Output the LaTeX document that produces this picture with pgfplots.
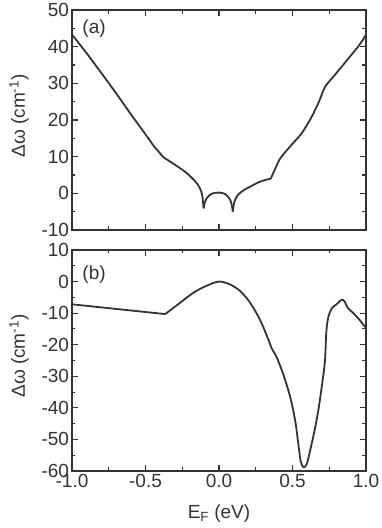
\documentclass[border=0pt]{standalone}
\usepackage{pgfplots}
\pgfplotsset{compat=1.18}
\usepackage{fontspec}
\setmainfont{Liberation Sans}
\definecolor{ink}{HTML}{333333}
\begin{document}
\begin{tikzpicture}
\pgfplotsset{
  every axis/.append style={
    scale only axis, width=294pt,
    xmin=-1, xmax=1,
    xtick={-1,-0.5,0,0.5,1},
    minor xtick={-0.75,-0.25,0.25,0.75},
    xtick align=inside, ytick align=inside,
    xtick pos=both, ytick pos=both,
    tickwidth=6pt, subtickwidth=3.5pt,
    axis line style={ink, line width=1.4pt},
    every major tick/.append style={ink, line width=1.1pt, major tick length=6pt},
    every minor tick/.append style={ink, line width=1.1pt, minor tick length=3.5pt},
    tick label style={font=\fontsize{19}{21}\selectfont, text=ink},
    yticklabel style={xshift=0.5pt},
    label style={font=\fontsize{19}{21}\selectfont, text=ink},
    /pgf/number format/assume math mode=true,
  },
}
\begin{axis}[name=top, at={(0,0)}, anchor=north west,
  height=220pt,
  ymin=-10, ymax=50,
  ytick={-10,0,10,20,30,40,50},
  yticklabels={-10,0,10,20,30,40,50},
  minor ytick={-5,5,15,25,35,45},
  xticklabels={},
  ylabel={Δω (cm\textsuperscript{-1})},
  ylabel style={at={(axis description cs:-0.18,0.518)}, anchor=center},
]
\addplot[ink, line width=1.8pt, smooth, tension=0.3] coordinates {
(-1.0,43.3) (-0.90,38.2) (-0.80,32.8) (-0.70,27.3) (-0.60,21.6) (-0.52,17.2) (-0.445,13.0) (-0.377,9.8)
};
\addplot[ink, line width=1.8pt, smooth, tension=0.5] coordinates {
(-0.377,9.8) (-0.30,7.8) (-0.219,5.5) (-0.15,2.7) (-0.117,0) (-0.105,-4.1)
};
\addplot[ink, line width=1.8pt, smooth, tension=0.6] coordinates {
(-0.105,-4.1) (-0.095,-2.3) (-0.083,-1.3) (-0.049,-0.1) (0.0,0.2) (0.042,-0.2) (0.072,-1.5) (0.086,-3.0) (0.094,-5.0)
};
\addplot[ink, line width=1.8pt, smooth, tension=0.6] coordinates {
(0.094,-5.0) (0.105,-2.3) (0.13,-0.4) (0.17,0.9) (0.212,1.8) (0.28,3.2) (0.352,4.0)
};
\addplot[ink, line width=1.8pt, smooth, tension=0.4] coordinates {
(0.352,4.0) (0.38,6.5) (0.416,9.5) (0.484,12.8) (0.563,16.4) (0.631,20.9) (0.68,25.0) (0.722,29.1) (0.778,31.8) (0.84,34.8) (0.891,37.3) (0.95,40.2) (1.0,43.2)
};
\node[anchor=north west, inner sep=0pt, font=\fontsize{19}{21}\selectfont, text=ink] at (rel axis cs:0.035,0.955) {(a)};
\end{axis}
\begin{axis}[name=bot, at={(top.south west)}, anchor=north west, yshift=-20pt,
  height=221pt,
  ymin=-60, ymax=10,
  ytick={-60,-50,-40,-30,-20,-10,0,10},
  yticklabels={-60,-50,-40,-30,-20,-10,0,10},
  minor ytick={-55,-45,-35,-25,-15,-5,5},
  xticklabels={-1.0,-0.5,0.0,0.5,1.0},
  xlabel={E\textsubscript{F} (eV)},
  ylabel={Δω (cm\textsuperscript{-1})},
  ylabel style={at={(axis description cs:-0.18,0.52)}, anchor=center},
  xlabel style={at={(axis description cs:0.5,-0.135)}, anchor=north},
]
\addplot[ink, line width=1.8pt] coordinates {
(-1.0,-7.2) (-0.366,-10.3)
};
\addplot[ink, line width=1.8pt, smooth, tension=0.5] coordinates {
(-0.366,-10.3) (-0.264,-6.7) (-0.173,-3.5) (-0.083,-1.3) (0.0,0.0) (0.075,-0.9) (0.144,-3.0) (0.212,-6.7) (0.28,-12.2) (0.336,-18.4) (0.359,-21.2) (0.393,-24.0) (0.438,-29.5) (0.484,-36.5) (0.518,-44.0) (0.540,-51.5) (0.556,-57.0) (0.575,-58.8) (0.597,-57.8) (0.625,-52.5) (0.653,-46.5) (0.676,-40.7) (0.700,-33.0) (0.721,-25.0) (0.730,-16.0) (0.744,-11.2) (0.770,-8.3) (0.800,-7.2) (0.834,-5.8) (0.855,-6.3) (0.875,-8.3) (0.91,-9.8) (0.95,-11.8) (1.0,-14.7)
};
\node[anchor=north west, inner sep=0pt, font=\fontsize{19}{21}\selectfont, text=ink] at (rel axis cs:0.035,0.93) {(b)};
\end{axis}
\pgfresetboundingbox
\path (top.north west) ++(-72pt,10pt) rectangle ++(382pt,-528pt);
\end{tikzpicture}
\end{document}
